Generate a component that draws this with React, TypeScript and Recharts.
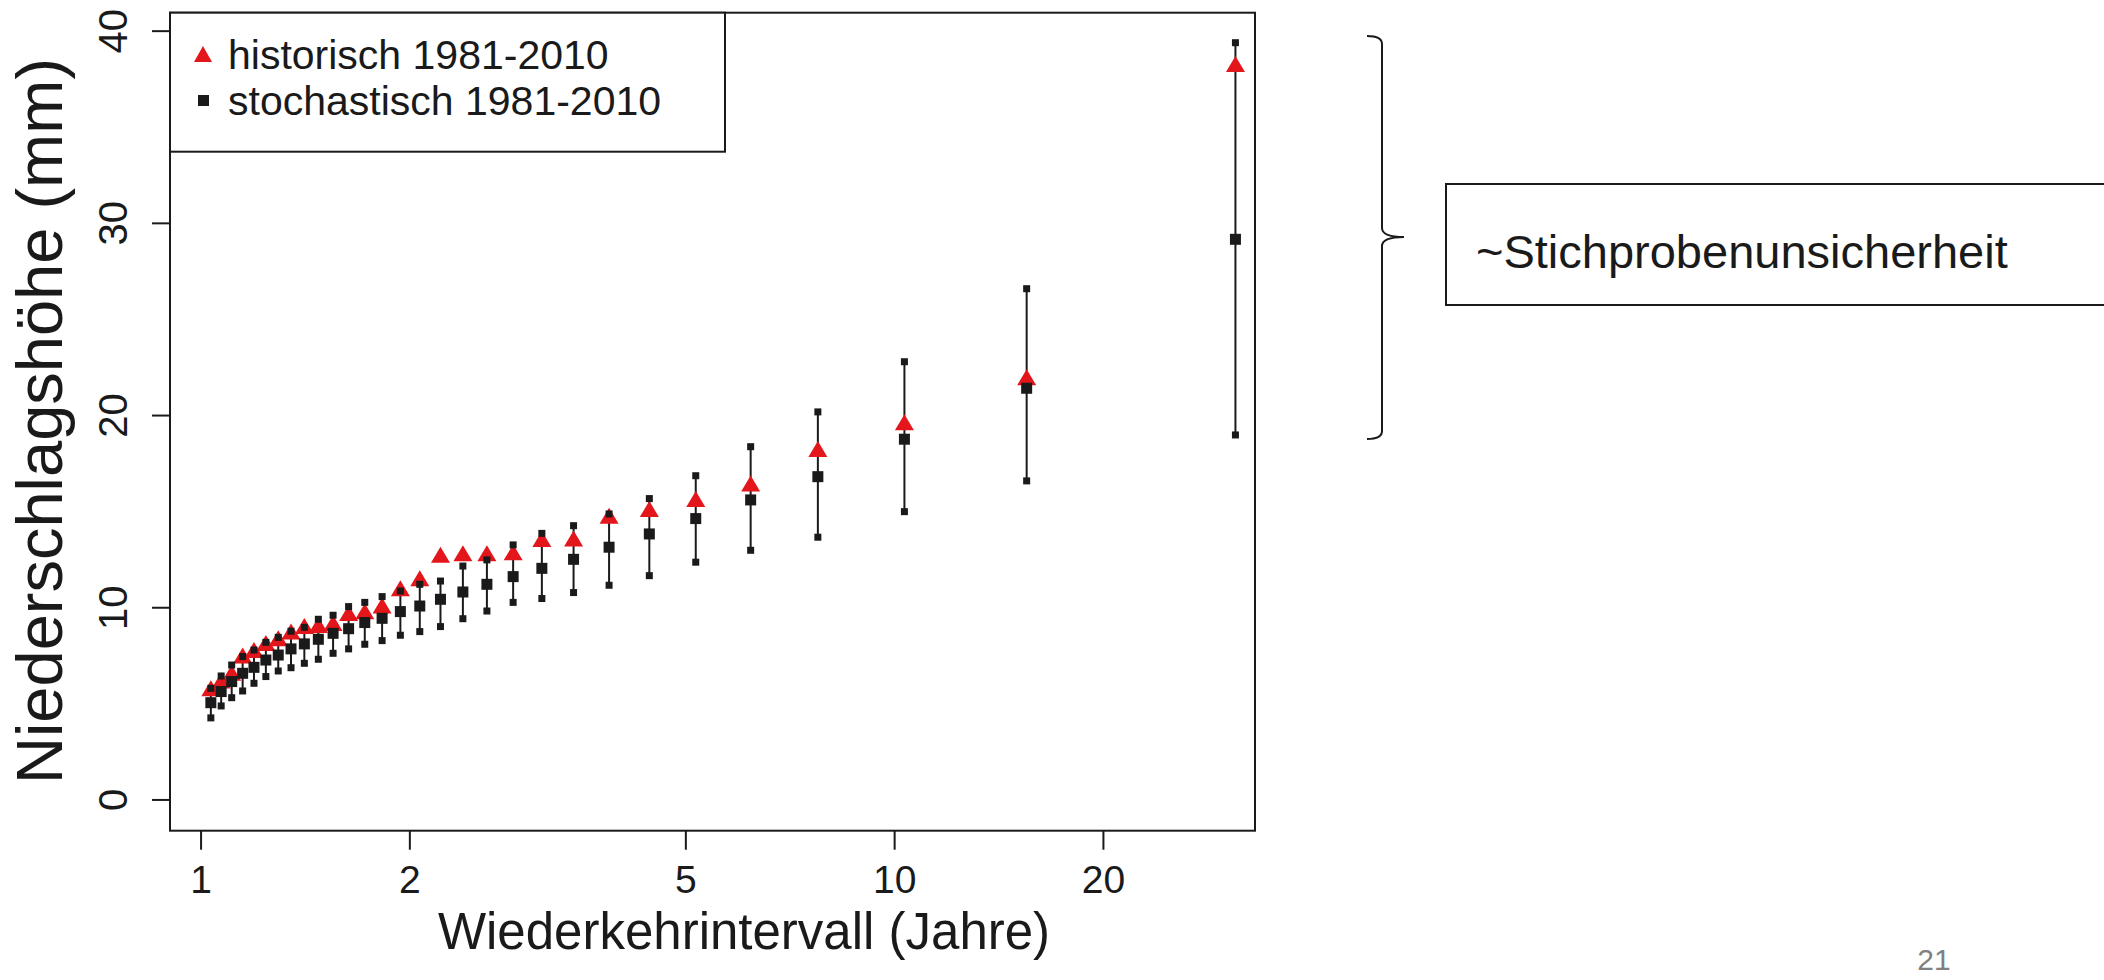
import React from "react";
import { ComposedChart, Scatter, XAxis, YAxis, ErrorBar } from "recharts";

// ---- data ----
const returnPeriods = [1.033, 1.069, 1.107, 1.148, 1.192, 1.24, 1.292, 1.348, 1.409, 1.476, 1.55, 1.632, 1.722, 1.824, 1.938, 2.067, 2.214, 2.385, 2.583, 2.818, 3.1, 3.444, 3.875, 4.429, 5.167, 6.2, 7.75, 10.33, 15.5, 31];
const historic = [5.76, 6.16, 6.56, 7.46, 7.75, 8.12, 8.36, 8.71, 9.0, 9.05, 9.16, 9.68, 9.77, 10.06, 10.96, 11.48, 12.7, 12.78, 12.78, 12.83, 13.53, 13.55, 14.74, 15.09, 15.61, 16.41, 18.21, 19.6, 21.94, 38.24];
const stochMedian = [5.06, 5.64, 6.16, 6.59, 6.9, 7.28, 7.54, 7.86, 8.12, 8.36, 8.67, 8.91, 9.23, 9.45, 9.8, 10.09, 10.44, 10.82, 11.22, 11.62, 12.05, 12.52, 13.15, 13.84, 14.64, 15.61, 16.82, 18.77, 21.42, 29.17];
const stochUpper = [5.81, 6.45, 7.02, 7.46, 7.8, 8.2, 8.46, 8.78, 8.98, 9.4, 9.61, 10.06, 10.28, 10.58, 10.87, 11.22, 11.39, 12.17, 12.49, 13.27, 13.87, 14.27, 14.88, 15.68, 16.87, 18.38, 20.19, 22.8, 26.6, 39.4];
const stochLower = [4.27, 4.89, 5.32, 5.67, 6.07, 6.42, 6.71, 6.88, 7.11, 7.32, 7.63, 7.86, 8.1, 8.29, 8.57, 8.76, 9.02, 9.43, 9.83, 10.28, 10.48, 10.79, 11.17, 11.67, 12.37, 12.99, 13.67, 15.0, 16.6, 18.99];

const xTicks = [1, 2, 5, 10, 20];
const yTicks = [0, 10, 20, 30, 40];
const xDomain = [0.902, 33.08];
const yDomain = [-1.6, 40.96];
const legendLabels = ["historisch 1981-2010", "stochastisch 1981-2010"];
const xTitle = "Wiederkehrintervall (Jahre)";
const yTitle = "Niederschlagshöhe (mm)";
const annotationText = "~Stichprobenunsicherheit";
const pageNumber = "21";

// ---- derived tables ----
const histData = returnPeriods.map((t, i) => ({ x: t, y: historic[i] }));
const medianData = returnPeriods.map((t, i) => ({
  x: t,
  y: stochMedian[i],
  err: [stochMedian[i] - stochLower[i], stochUpper[i] - stochMedian[i]],
}));
const upperData = returnPeriods.map((t, i) => ({ x: t, y: stochUpper[i] }));
const lowerData = returnPeriods.map((t, i) => ({ x: t, y: stochLower[i] }));

// ---- styles ----
const W = 2104;
const H = 980;
const PLOT_LEFT = 170;
const PLOT_RIGHT = 1255;
const PLOT_TOP = 12.7;
const PLOT_BOTTOM = 830.7;
const RED = "#e3161c";
const BLACK = "#1a1a1a";
const FONT = "'Liberation Sans', Arial, Helvetica, sans-serif";

const TriangleShape = (props: any) => {
  const { cx, cy } = props;
  if (cx == null || cy == null) return null;
  return <polygon points={`${cx - 9.5},${cy + 7} ${cx + 9.5},${cy + 7} ${cx},${cy - 9}`} fill={RED} />;
};
const BigSquare = (props: any) => {
  const { cx, cy } = props;
  if (cx == null || cy == null) return null;
  return <rect x={cx - 5.5} y={cy - 5.5} width={11} height={11} fill={BLACK} />;
};
const SmallSquare = (props: any) => {
  const { cx, cy } = props;
  if (cx == null || cy == null) return null;
  return <rect x={cx - 3.5} y={cy - 3.5} width={7} height={7} fill={BLACK} />;
};

const YTick = (props: any) => {
  const { x, y, payload } = props;
  return (
    <text
      x={x}
      y={y}
      transform={`rotate(-90 ${x} ${y})`}
      textAnchor="middle"
      fontSize={40}
      fontFamily={FONT}
      fill={BLACK}
    >
      {payload.value}
    </text>
  );
};

export default function App() {
  return (
    <div style={{ position: "absolute", left: 0, top: 0, width: W, height: H, background: "#fff" }}>
      <ComposedChart
        width={W}
        height={H}
        margin={{ top: PLOT_TOP, right: W - PLOT_RIGHT, bottom: 0, left: 0 }}
      >
        <XAxis
          dataKey="x"
          type="number"
          scale="log"
          domain={xDomain}
          allowDataOverflow
          ticks={xTicks}
          height={H - PLOT_BOTTOM}
          axisLine={false}
          tickLine={{ stroke: BLACK, strokeWidth: 2 }}
          tickSize={19}
          tickMargin={16}
          tick={{ fontSize: 39, fontFamily: FONT, fill: BLACK }}
          interval={0}
        />
        <YAxis
          dataKey="y"
          type="number"
          domain={yDomain}
          allowDataOverflow
          ticks={yTicks}
          width={PLOT_LEFT}
          axisLine={false}
          tickLine={{ stroke: BLACK, strokeWidth: 2 }}
          tickSize={18}
          tickMargin={25}
          tick={<YTick />}
          interval={0}
        />
        <Scatter data={histData} shape={<TriangleShape />} isAnimationActive={false} />
        <Scatter data={medianData} shape={<BigSquare />} isAnimationActive={false}>
          <ErrorBar dataKey="err" direction="y" width={0} stroke={BLACK} strokeWidth={2} isAnimationActive={false} />
        </Scatter>
        <Scatter data={upperData} shape={<SmallSquare />} isAnimationActive={false} />
        <Scatter data={lowerData} shape={<SmallSquare />} isAnimationActive={false} />
      </ComposedChart>

      <svg
        width={W}
        height={H}
        style={{ position: "absolute", left: 0, top: 0, pointerEvents: "none" }}
      >
        {/* plot frame */}
        <rect
          x={PLOT_LEFT}
          y={PLOT_TOP}
          width={PLOT_RIGHT - PLOT_LEFT}
          height={PLOT_BOTTOM - PLOT_TOP}
          fill="none"
          stroke={BLACK}
          strokeWidth={2}
        />
        {/* legend */}
        <rect x={PLOT_LEFT} y={PLOT_TOP} width={555} height={139} fill="#fff" stroke={BLACK} strokeWidth={2} />
        <polygon points="194,62 212,62 203,46" fill={RED} />
        <text x={228} y={69} fontSize={41} fontFamily={FONT} fill={BLACK}>{legendLabels[0]}</text>
        <rect x={198} y={95} width={11} height={11} fill={BLACK} />
        <text x={228} y={115} fontSize={41} fontFamily={FONT} fill={BLACK}>{legendLabels[1]}</text>

        {/* axis titles */}
        <text x={744} y={949} textAnchor="middle" fontSize={51} fontFamily={FONT} fill={BLACK}>{xTitle}</text>
        <text
          x={62}
          y={421}
          transform="rotate(-90 62 421)"
          textAnchor="middle"
          fontSize={65}
          fontFamily={FONT}
          fill={BLACK}
        >
          {yTitle}
        </text>

        {/* brace annotation */}
        <path
          d="M1367,36 Q1382,36 1382,44 L1382,228 Q1382,237 1404,237 Q1382,237 1382,246 L1382,431 Q1382,439 1367,439"
          fill="none"
          stroke={BLACK}
          strokeWidth={2}
        />
        <rect x={1446} y={184} width={700} height={121} fill="#fff" stroke={BLACK} strokeWidth={2} />
        <text x={1476} y={268} fontSize={47} fontFamily={FONT} fill={BLACK}>{annotationText}</text>

        {/* page number */}
        <text x={1934} y={970} textAnchor="middle" fontSize={30} fontFamily={FONT} fill="#808080">{pageNumber}</text>
      </svg>
    </div>
  );
}
